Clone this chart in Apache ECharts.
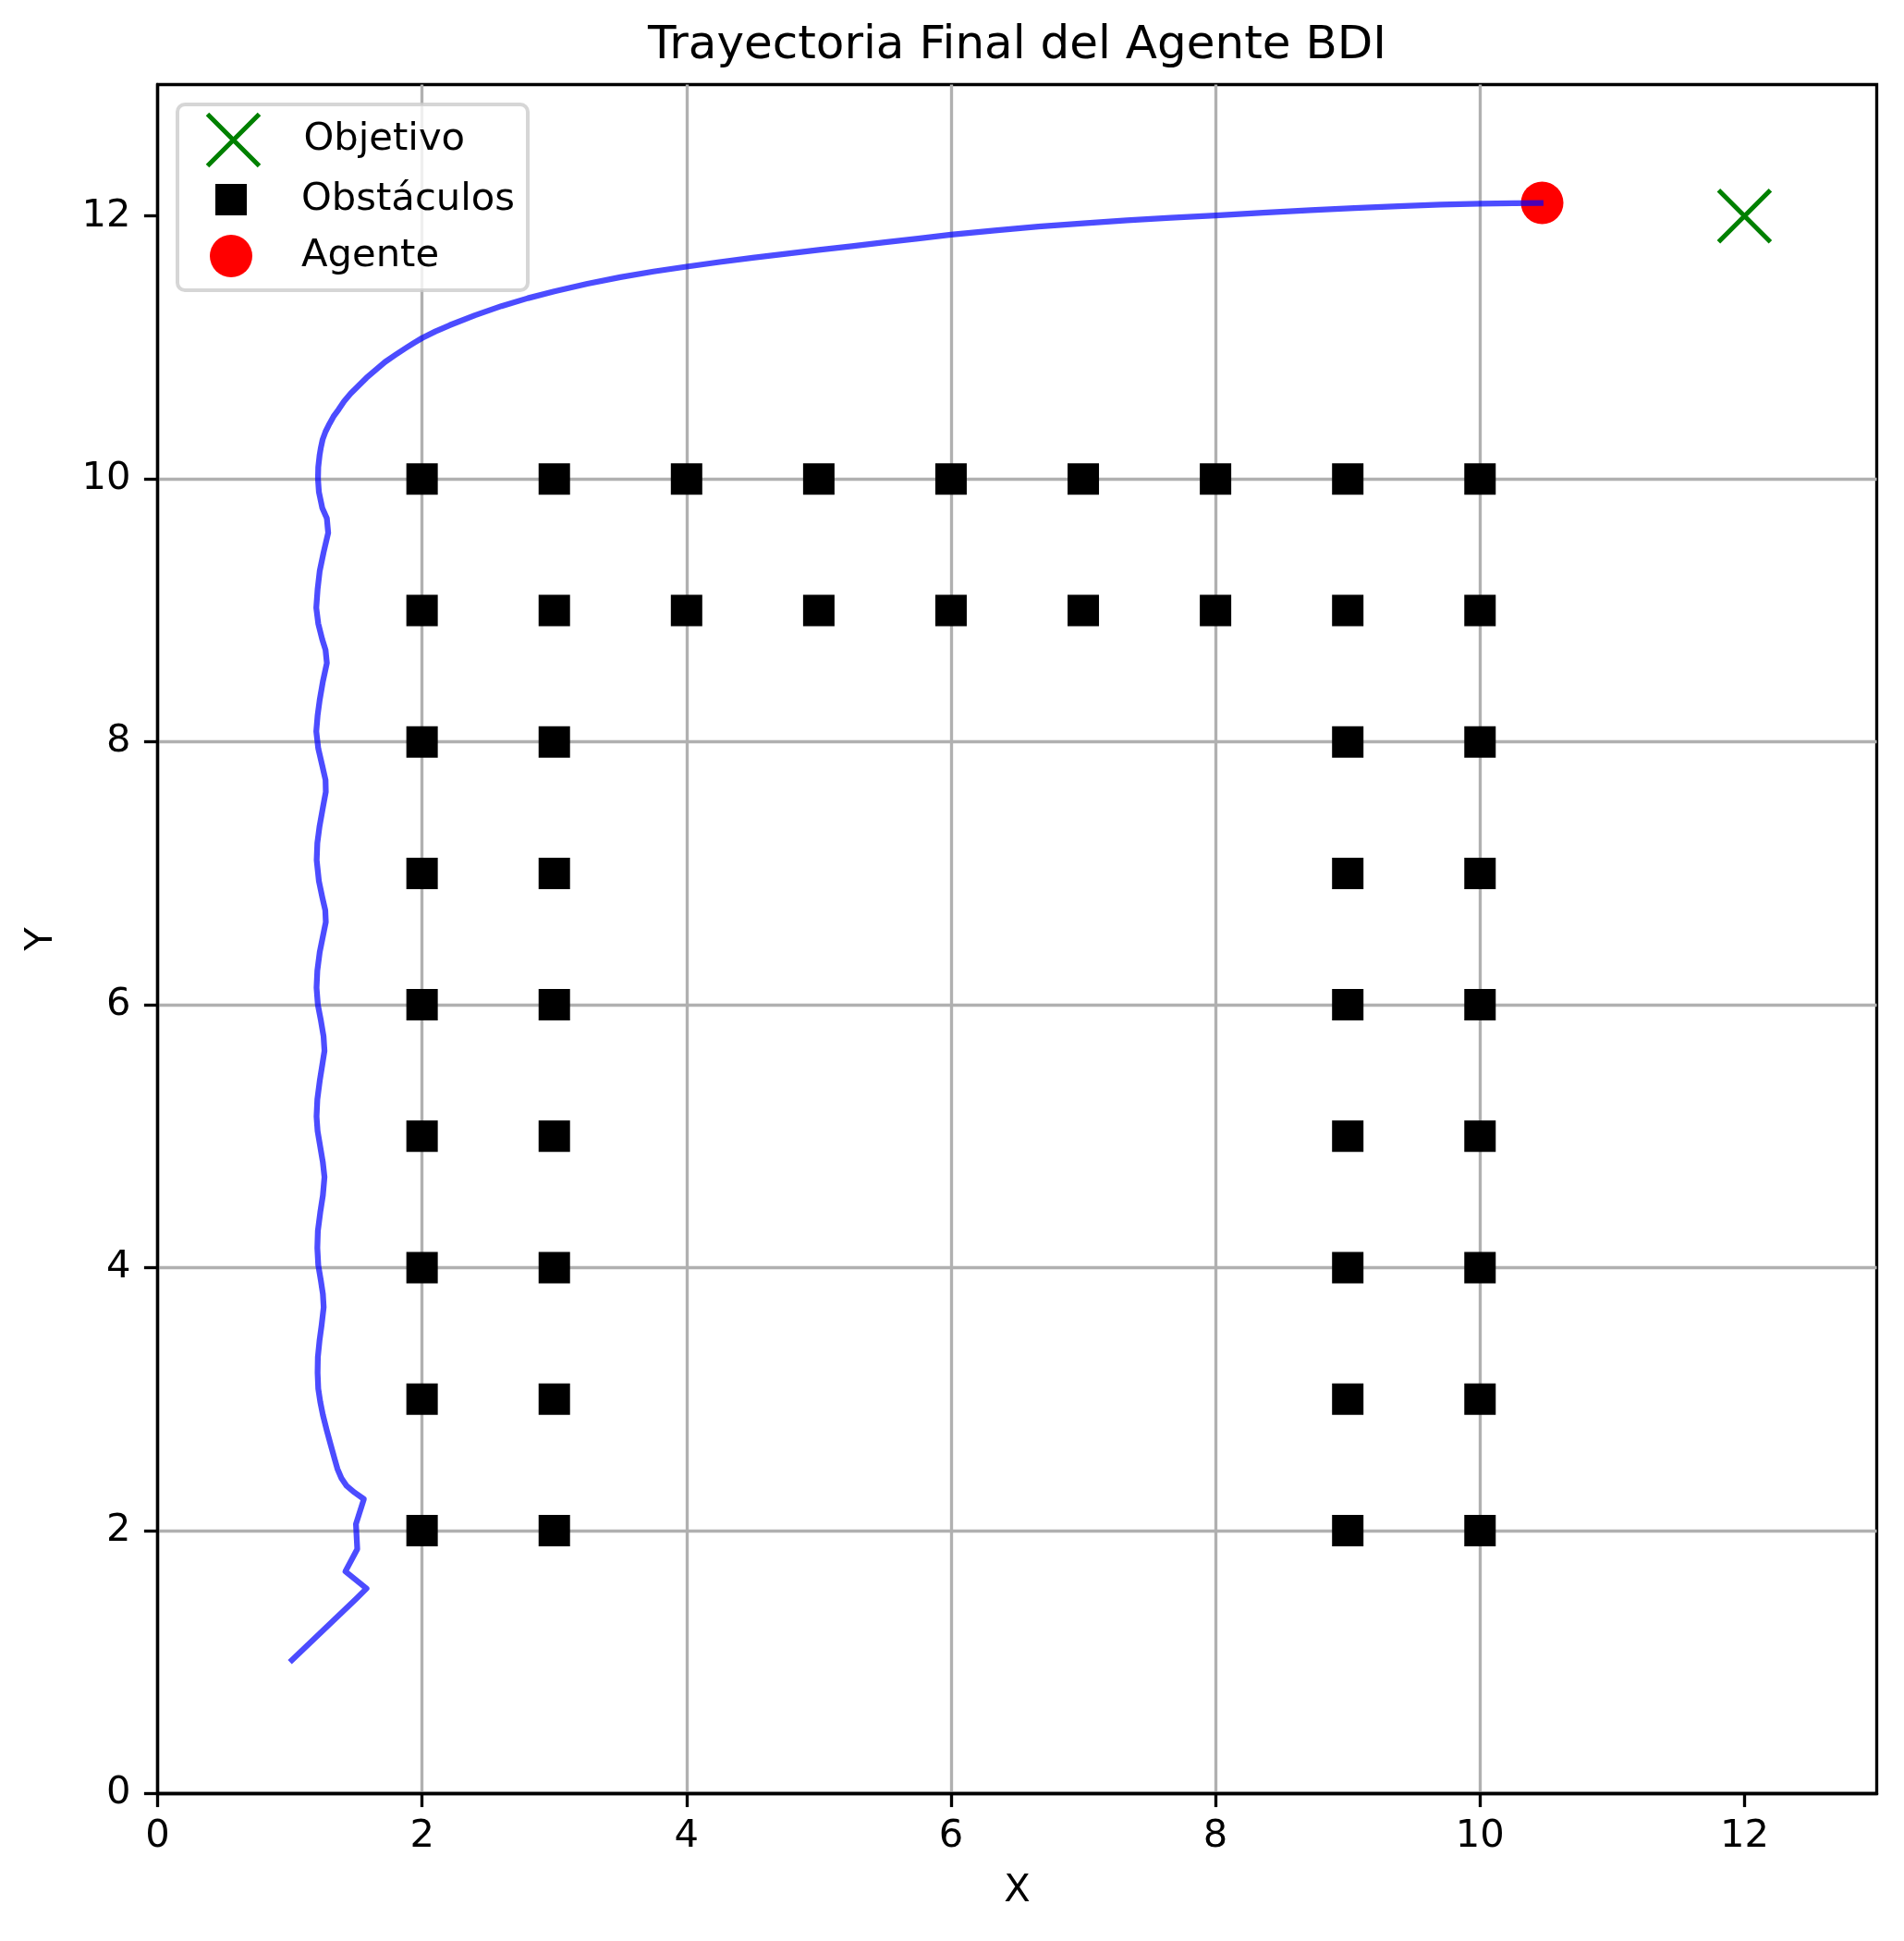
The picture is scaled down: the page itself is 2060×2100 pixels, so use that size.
<!DOCTYPE html>
<html><head><meta charset="utf-8">
<script src="https://cdn.jsdelivr.net/npm/echarts@6/dist/echarts.min.js"></script>
<style>html,body{margin:0;padding:0;background:#fff}#chart{width:2060px;height:2100px}</style>
</head><body><div id="chart"></div>
<script>
const xTicks = [0, 2, 4, 6, 8, 10, 12];
const yTicks = [0, 2, 4, 6, 8, 10, 12];
const goalPoint = [[12, 12]];
const agentPoint = [[10.47, 12.10]];
const obstacles = [
  [2,2],[2,3],[2,4],[2,5],[2,6],[2,7],[2,8],[2,9],[2,10],
  [3,2],[3,3],[3,4],[3,5],[3,6],[3,7],[3,8],[3,9],[3,10],
  [9,2],[9,3],[9,4],[9,5],[9,6],[9,7],[9,8],[9,9],[9,10],
  [10,2],[10,3],[10,4],[10,5],[10,6],[10,7],[10,8],[10,9],[10,10],
  [4,9],[5,9],[6,9],[7,9],[8,9],
  [4,10],[5,10],[6,10],[7,10],[8,10]
];
const trajectory = [
  [1.00,1.00],[1.50,1.48],[1.58,1.56],[1.42,1.69],[1.51,1.86],[1.50,2.05],[1.56,2.24],
  [1.49,2.29],[1.43,2.34],[1.39,2.40],[1.36,2.47],[1.34,2.54],[1.31,2.65],[1.28,2.76],
  [1.25,2.88],[1.23,2.98],[1.215,3.08],[1.21,3.20],[1.212,3.32],[1.225,3.45],[1.24,3.56],
  [1.256,3.70],[1.25,3.80],[1.235,3.90],[1.215,4.02],[1.208,4.15],[1.212,4.28],[1.23,4.42],
  [1.25,4.55],[1.262,4.69],[1.25,4.80],[1.23,4.92],[1.21,5.04],[1.202,5.15],[1.208,5.28],
  [1.226,5.42],[1.245,5.54],[1.262,5.65],[1.255,5.76],[1.235,5.88],[1.212,6.00],[1.202,6.13],
  [1.208,6.26],[1.226,6.40],[1.25,6.52],[1.272,6.63],[1.268,6.72],[1.245,6.82],[1.22,6.94],
  [1.203,7.10],[1.208,7.23],[1.225,7.36],[1.25,7.50],[1.272,7.62],[1.27,7.71],[1.245,7.82],
  [1.215,7.95],[1.20,8.08],[1.21,8.20],[1.226,8.32],[1.25,8.46],[1.28,8.60],[1.27,8.70],
  [1.245,8.78],[1.215,8.90],[1.20,9.02],[1.21,9.16],[1.226,9.30],[1.255,9.44],[1.29,9.59],
  [1.28,9.70],[1.245,9.78],[1.22,9.90],[1.213,10.0],[1.215,10.09],[1.225,10.18],[1.235,10.24],
  [1.248,10.30],[1.27,10.36],[1.30,10.42],[1.33,10.475],[1.37,10.53],[1.41,10.59],[1.46,10.65],
  [1.52,10.71],[1.58,10.77],[1.65,10.83],[1.72,10.89],[1.80,10.945],[1.88,10.998],[1.94,11.036],
  [2.00,11.072],[2.10,11.122],[2.21,11.17],[2.40,11.245],[2.60,11.315],[2.80,11.375],[3.00,11.427],
  [3.25,11.485],[3.50,11.535],[3.75,11.578],[4.00,11.615],[4.25,11.65],[4.50,11.682],[4.75,11.713],
  [5.00,11.742],[5.25,11.771],[5.50,11.800],[5.75,11.829],[6.00,11.858],[6.33,11.89],[6.66,11.92],
  [7.00,11.945],[7.33,11.967],[7.66,11.987],[8.00,12.005],[8.36,12.026],[8.72,12.045],[9.05,12.06],
  [9.38,12.075],[9.70,12.087],[10.00,12.094],[10.25,12.098],[10.48,12.10]
];
const legendNames = ['Objetivo', 'Obstáculos', 'Agente'];
const titleText = 'Trayectoria Final del Agente BDI';

const FONT = 'DejaVu Sans';
const XPATH = 'path://M0,0L10,10M10,0L0,10';
const chart = echarts.init(document.getElementById('chart'), null, {renderer: 'canvas', width: 2060, height: 2100});

function axisCommon(ticks, name, nameGap, labelMargin) {
  return {
    type: 'value', min: 0, max: 13, interval: 2,
    name: name, nameLocation: 'middle', nameGap: nameGap,
    nameTextStyle: {fontFamily: FONT, fontSize: 41.7, color: '#000'},
    axisLine: {show: true, onZero: false, lineStyle: {color: '#000', width: 3.33}},
    axisTick: {show: true, length: 14.6, customValues: ticks, lineStyle: {color: '#000', width: 3.33}},
    axisLabel: {show: true, customValues: ticks, margin: labelMargin, fontFamily: FONT, fontSize: 41.7, color: '#000'},
    splitLine: {show: true, showMinLine: false, showMaxLine: false, lineStyle: {color: '#b0b0b0', width: 3.33}}
  };
}

const legendCommon = {
  orient: 'vertical', padding: 0, selectedMode: false, itemGap: 0
};

chart.setOption({
  animation: false,
  backgroundColor: '#fff',
  title: {
    text: titleText, left: 1100.5, top: 25, padding: 0, textAlign: 'center',
    textStyle: {fontFamily: FONT, fontSize: 50, fontWeight: 'normal', color: '#000'}
  },
  grid: {
    left: 170.5, right: 29.5, top: 91.5, bottom: 159.5, containLabel: false,
    show: true, borderColor: '#000', borderWidth: 3.33, backgroundColor: 'transparent'
  },
  xAxis: axisCommon(xTicks, 'X', 85, 26),
  yAxis: axisCommon(yTicks, 'Y', 104, 29),
  legend: [
    Object.assign({}, legendCommon, {
      left: 222, top: 121, itemWidth: 56, itemHeight: 56,
      data: [{name: legendNames[0], icon: XPATH}],
      itemStyle: {color: '#008000', borderColor: '#008000', borderWidth: 5, opacity: 1},
      textStyle: {fontFamily: FONT, fontSize: 41.7, color: '#000', padding: [0, 0, 12, 43]}
    }),
    Object.assign({}, legendCommon, {
      left: 233, top: 195, itemWidth: 34, itemHeight: 34,
      data: [{name: legendNames[1], icon: 'rect'}],
      itemStyle: {color: '#000', borderWidth: 0, opacity: 1},
      textStyle: {fontFamily: FONT, fontSize: 41.7, color: '#000', padding: [0, 0, 12, 54]}
    }),
    Object.assign({}, legendCommon, {
      left: 227, top: 254, itemWidth: 46, itemHeight: 46,
      data: [{name: legendNames[2], icon: 'circle'}],
      itemStyle: {color: '#ff0000', borderWidth: 0, opacity: 1},
      textStyle: {fontFamily: FONT, fontSize: 41.7, color: '#000', padding: [0, 0, 8, 48]}
    })
  ],
  graphic: [{
    type: 'rect', z: 3, silent: true,
    shape: {x: 192, y: 113, width: 379, height: 201, r: 8},
    style: {fill: 'rgba(255,255,255,0.8)', stroke: 'rgba(204,204,204,0.8)', lineWidth: 4}
  }],
  series: [
    {
      name: legendNames[0], type: 'scatter', data: goalPoint, symbol: XPATH, symbolSize: 56, z: 2,
      itemStyle: {color: '#008000', borderColor: '#008000', borderWidth: 5, opacity: 1},
      emphasis: {disabled: true}
    },
    {
      name: legendNames[1], type: 'scatter', data: obstacles, symbol: 'rect', symbolSize: 34, z: 2,
      itemStyle: {color: '#000', opacity: 1},
      emphasis: {disabled: true}
    },
    {
      name: legendNames[2], type: 'scatter', data: agentPoint, symbol: 'circle', symbolSize: 46, z: 2,
      itemStyle: {color: '#ff0000', opacity: 1},
      emphasis: {disabled: true}
    },
    {
      name: 'Trayectoria', type: 'line', data: trajectory, showSymbol: false, symbol: 'none', z: 3,
      lineStyle: {color: 'rgba(0,0,255,0.7)', width: 6.25, join: 'round'},
      emphasis: {disabled: true}
    }
  ]
});
</script>
</body></html>
